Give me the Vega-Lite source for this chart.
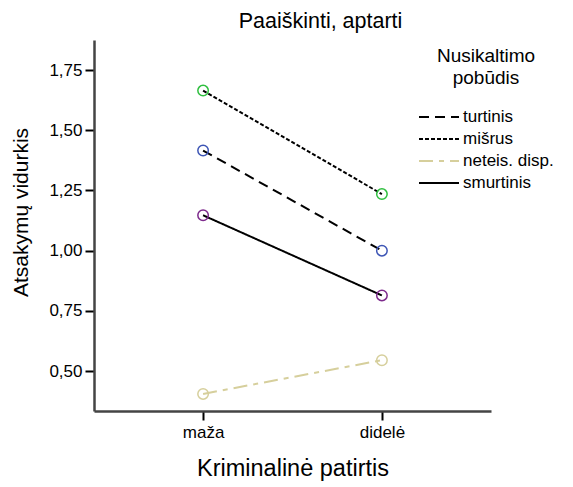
{
  "$schema": "https://vega.github.io/schema/vega-lite/v6.json",
  "width": 397,
  "height": 371,
  "autosize": {"type": "none"},
  "padding": {"left": 94, "top": 40, "right": 82, "bottom": 76},
  "background": "white",
  "config": {
    "font": "Liberation Sans",
    "view": {"stroke": null}
  },
  "title": {
    "text": "Paaiškinti, aptarti",
    "fontSize": 21.5,
    "fontWeight": "normal",
    "font": "Liberation Sans",
    "color": "#000",
    "anchor": "middle",
    "dx": 28,
    "offset": 8
  },
  "data": {
    "values": [
      {"series": "turtinis", "kp": "maža", "value": 1.416},
      {"series": "turtinis", "kp": "didelė", "value": 1.0},
      {"series": "mišrus", "kp": "maža", "value": 1.665},
      {"series": "mišrus", "kp": "didelė", "value": 1.235},
      {"series": "neteis. disp.", "kp": "maža", "value": 0.405},
      {"series": "neteis. disp.", "kp": "didelė", "value": 0.545},
      {"series": "smurtinis", "kp": "maža", "value": 1.147},
      {"series": "smurtinis", "kp": "didelė", "value": 0.814}
    ]
  },
  "encoding": {
    "x": {
      "field": "kp",
      "type": "nominal",
      "sort": ["maža", "didelė"],
      "scale": {"type": "point", "padding": 0.61},
      "axis": {
        "title": "Kriminalinė patirtis",
        "titleFontSize": 23.5,
        "titleFontWeight": "normal",
        "titleColor": "#000",
        "titlePadding": 16,
        "labelFontSize": 17,
        "labelColor": "#000",
        "labelAngle": 0,
        "labelPadding": 4,
        "tickSize": 9,
        "tickColor": "#000",
        "tickWidth": 2,
        "domainColor": "#444",
        "domainWidth": 2.5,
        "grid": false
      }
    },
    "y": {
      "field": "value",
      "type": "quantitative",
      "scale": {"domain": [0.334, 1.875], "nice": false, "zero": false},
      "axis": {
        "title": "Atsakymų vidurkis",
        "titleFontSize": 21,
        "titleFontWeight": "normal",
        "titleColor": "#000",
        "titleX": -67,
        "titleY": 172,
        "titleBaseline": "alphabetic",
        "values": [0.5, 0.75, 1.0, 1.25, 1.5, 1.75],
        "labelExpr": "replace(format(datum.value, '.2f'), '.', ',')",
        "labelFontSize": 17,
        "labelColor": "#000",
        "labelPadding": 3,
        "tickSize": 9,
        "tickColor": "#000",
        "tickWidth": 2,
        "domainColor": "#444",
        "domainWidth": 2.5,
        "grid": false
      }
    }
  },
  "layer": [
    {
      "mark": {"type": "line", "strokeWidth": 2},
      "encoding": {
        "detail": {"field": "series"},
        "color": {
          "field": "series",
          "type": "nominal",
          "scale": {
            "domain": ["turtinis", "mišrus", "neteis. disp.", "smurtinis"],
            "range": ["#000000", "#000000", "#d6cf9c", "#000000"]
          },
          "legend": {
            "title": ["Nusikaltimo", "pobūdis"],
            "orient": "none",
            "legendX": 324,
            "legendY": 7,
            "titleFontSize": 19,
            "titleFontWeight": "normal",
            "titleColor": "#000",
            "titleAnchor": "middle",
            "titleLineHeight": 22,
            "titlePadding": 20,
            "labelFontSize": 17,
            "labelColor": "#000",
            "labelOffset": 3,
            "symbolType": "stroke",
            "symbolSize": 1600,
            "symbolStrokeWidth": 2,
            "clipHeight": 18,
            "rowPadding": 4,
            "encode": {
              "symbols": {
                "update": {
                  "strokeDash": {"scale": "strokeDash", "field": "value"}
                }
              }
            }
          }
        },
        "strokeDash": {
          "field": "series",
          "type": "nominal",
          "scale": {
            "domain": ["turtinis", "mišrus", "neteis. disp.", "smurtinis"],
            "range": [[10, 6], [4, 2], [14, 6, 5, 6], [1, 0]]
          },
          "legend": null
        }
      }
    },
    {
      "mark": {"type": "point", "shape": "circle", "filled": false, "size": 110, "strokeWidth": 1.5, "opacity": 1},
      "encoding": {
        "stroke": {
          "field": "series",
          "type": "nominal",
          "scale": {
            "domain": ["turtinis", "mišrus", "neteis. disp.", "smurtinis"],
            "range": ["#3d55b5", "#2fbf3f", "#d6cf9c", "#7d2a8c"]
          },
          "legend": null
        }
      }
    }
  ],
  "resolve": {"scale": {"stroke": "independent", "color": "independent"}}
}
